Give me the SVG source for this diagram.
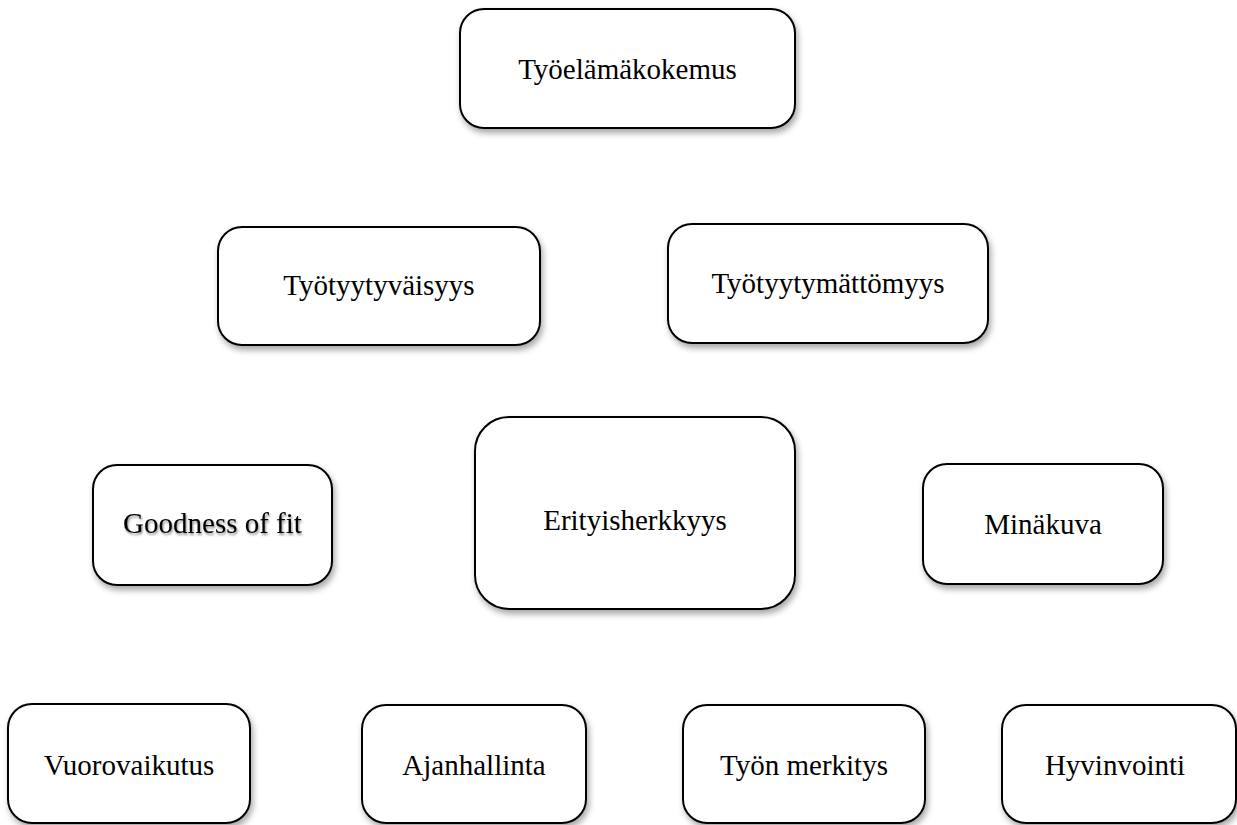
<svg xmlns="http://www.w3.org/2000/svg" width="1237" height="825" viewBox="0 0 1237 825">
  <defs>
    <filter id="shadow" x="-10%" y="-10%" width="125%" height="130%">
      <feDropShadow dx="2" dy="4" stdDeviation="3" flood-color="#000" flood-opacity="0.35"/>
    </filter>
    <filter id="tshadow" x="-10%" y="-30%" width="120%" height="160%">
      <feDropShadow dx="1" dy="2" stdDeviation="1.2" flood-color="#000" flood-opacity="0.45"/>
    </filter>
    <style>
      .box { fill: #fff; stroke: #000; stroke-width: 2; filter: url(#shadow); }
      .lbl { font-family: "Liberation Serif", "Times New Roman", serif; font-size: 29px; fill: #000; text-anchor: middle; }
    </style>
  </defs>
  <rect width="1237" height="825" fill="#fff"/>
  <g id="connectors"></g>
  <g id="n-tyoelamakokemus">
    <rect class="box" x="460" y="9" width="335" height="119" rx="24"/>
    <text class="lbl" x="627.5" y="79">Työelämäkokemus</text>
  </g>
  <g id="n-tyotyytyvaisyys">
    <rect class="box" x="218" y="227" width="322" height="118" rx="24"/>
    <text class="lbl" x="379" y="295">Työtyytyväisyys</text>
  </g>
  <g id="n-tyotyytymattomyys">
    <rect class="box" x="668" y="224" width="320" height="119" rx="24"/>
    <text class="lbl" x="828" y="293">Työtyytymättömyys</text>
  </g>
  <g id="n-goodness">
    <rect class="box" x="93" y="465" width="239" height="120" rx="24"/>
    <text class="lbl" x="212.5" y="533" filter="url(#tshadow)">Goodness of fit</text>
  </g>
  <g id="n-erityisherkkyys">
    <rect class="box" x="475" y="417" width="320" height="192" rx="34"/>
    <text class="lbl" x="635" y="530">Erityisherkkyys</text>
  </g>
  <g id="n-minakuva">
    <rect class="box" x="923" y="464" width="240" height="120" rx="24"/>
    <text class="lbl" x="1043" y="534">Minäkuva</text>
  </g>
  <g id="n-vuorovaikutus">
    <rect class="box" x="8" y="704" width="242" height="119" rx="24"/>
    <text class="lbl" x="129" y="775">Vuorovaikutus</text>
  </g>
  <g id="n-ajanhallinta">
    <rect class="box" x="362" y="705" width="224" height="118" rx="24"/>
    <text class="lbl" x="474" y="775">Ajanhallinta</text>
  </g>
  <g id="n-tyon-merkitys">
    <rect class="box" x="683" y="705" width="242" height="118" rx="24"/>
    <text class="lbl" x="804" y="775">Työn merkitys</text>
  </g>
  <g id="n-hyvinvointi">
    <rect class="box" x="1002" y="705" width="234" height="118" rx="24"/>
    <text class="lbl" x="1115" y="775">Hyvinvointi</text>
  </g>
</svg>
